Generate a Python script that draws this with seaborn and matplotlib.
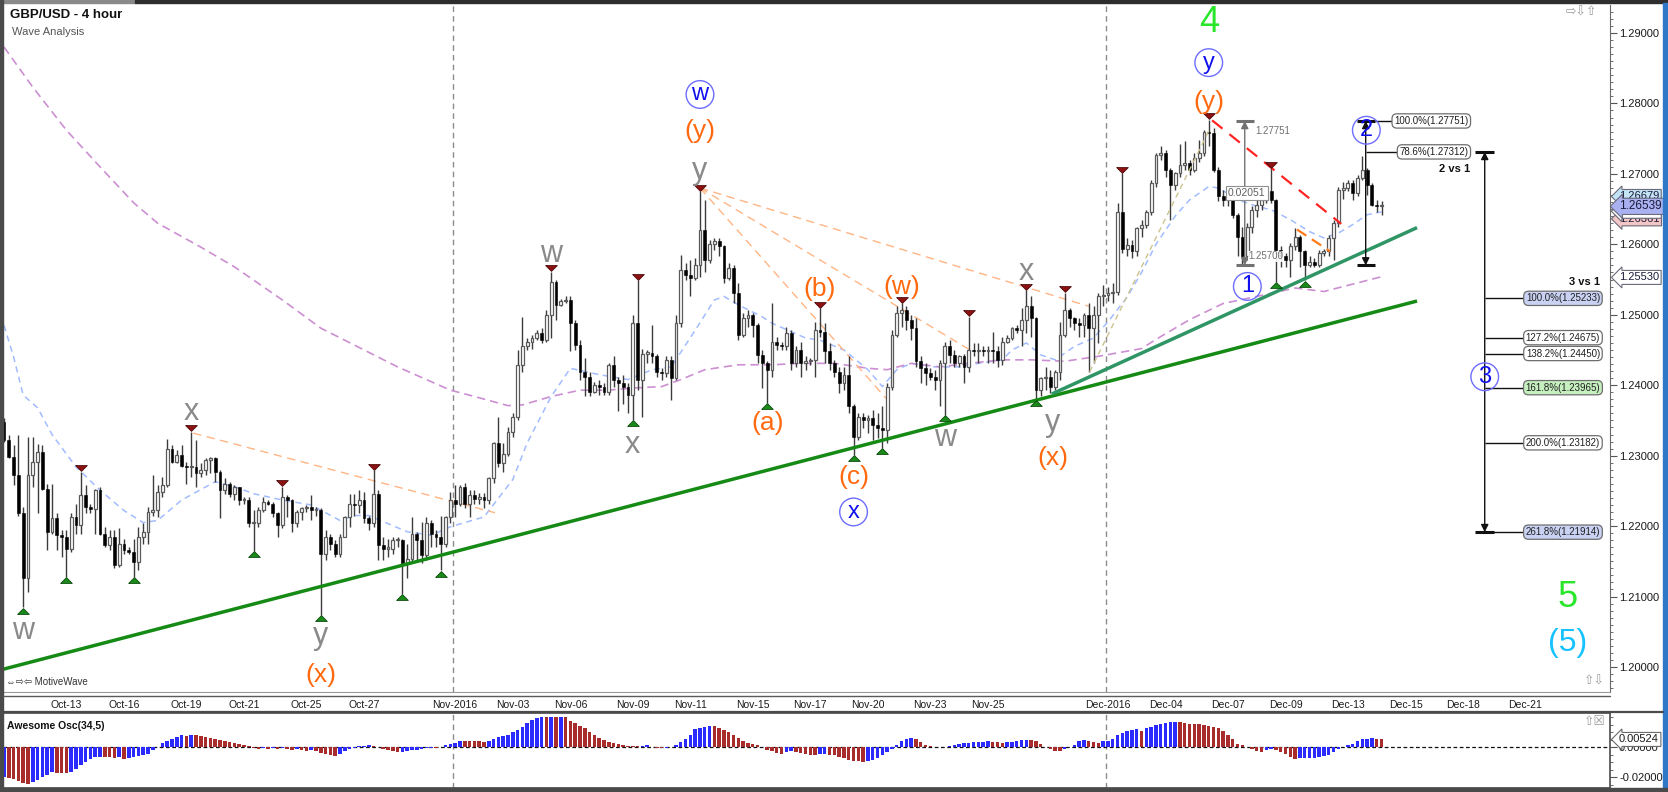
import numpy as np
import pandas as pd
import matplotlib
matplotlib.use("Agg")
import matplotlib.pyplot as plt
from matplotlib.lines import Line2D
from matplotlib.patches import Rectangle
from matplotlib.ticker import MultipleLocator, FixedLocator, FormatStrFormatter
import seaborn as sns

# ── GBP/USD 4h candles (1.xxxx written as xxxx) ──────────────────────────────
OPEN_FIRST = 2348
CLOSE = [
    2322, 2298, 2272, 2218, 2126, 2272, 2291, 2305, 2253, 2192, 2211, 2187,
    2185, 2168, 2213, 2201, 2244, 2227, 2224, 2251, 2189, 2173, 2185, 2145,
    2175, 2166, 2163, 2149, 2185, 2192, 2220, 2223, 2249, 2258, 2310, 2291,
    2301, 2286, 2284, 2284, 2275, 2279, 2294, 2296, 2277, 2251, 2260, 2246,
    2256, 2237, 2237, 2204, 2204, 2223, 2234, 2232, 2218, 2201, 2242, 2237,
    2204, 2220, 2225, 2227, 2223, 2223, 2161, 2185, 2175, 2161, 2185, 2213,
    2232, 2230, 2237, 2211, 2204, 2246, 2173, 2168, 2168, 2180, 2180, 2147,
    2154, 2189, 2180, 2159, 2204, 2189, 2185, 2175, 2213, 2237, 2232, 2256,
    2232, 2244, 2239, 2242, 2237, 2268, 2318, 2289, 2303, 2334, 2355, 2429,
    2455, 2462, 2467, 2474, 2464, 2500, 2547, 2514, 2519, 2521, 2488, 2457,
    2419, 2412, 2391, 2400, 2398, 2391, 2429, 2407, 2403, 2398, 2386, 2488,
    2407, 2445, 2446, 2441, 2419, 2417, 2436, 2410, 2488, 2564, 2557, 2552,
    2571, 2620, 2578, 2601, 2604, 2597, 2552, 2566, 2531, 2471, 2495, 2500,
    2486, 2443, 2431, 2422, 2462, 2457, 2455, 2474, 2431, 2450, 2431, 2434,
    2436, 2478, 2476, 2448, 2431, 2419, 2403, 2415, 2370, 2327, 2355, 2351,
    2353, 2344, 2339, 2337, 2398, 2471, 2502, 2507, 2493, 2481, 2434, 2424,
    2417, 2412, 2407, 2431, 2455, 2443, 2431, 2441, 2426, 2450, 2448, 2450,
    2448, 2450, 2448, 2436, 2462, 2467, 2481, 2478, 2493, 2512, 2495, 2393,
    2410, 2412, 2398, 2419, 2471, 2507, 2495, 2488, 2486, 2500, 2481, 2500,
    2526, 2528, 2531, 2533, 2646, 2594, 2599, 2590, 2623, 2628, 2646, 2687,
    2727, 2729, 2706, 2684, 2701, 2713, 2715, 2706, 2722, 2729, 2760, 2758,
    2706, 2668, 2663, 2668, 2642, 2611, 2583, 2625, 2649, 2656, 2663, 2675,
    2663, 2592, 2583, 2578, 2597, 2611, 2590, 2571, 2575, 2571, 2587, 2590,
    2609, 2630, 2677, 2680, 2687, 2673, 2694, 2706, 2684, 2656, 2654, 2655,
]
HIGH = [
    2353, 2329, 2315, 2329, 2227, 2327, 2327, 2317, 2315, 2260, 2260, 2218,
    2194, 2194, 2218, 2232, 2277, 2258, 2232, 2253, 2256, 2199, 2194, 2194,
    2197, 2182, 2171, 2182, 2199, 2204, 2227, 2272, 2258, 2270, 2324, 2315,
    2308, 2315, 2291, 2334, 2322, 2289, 2296, 2298, 2298, 2280, 2268, 2263,
    2258, 2256, 2242, 2242, 2223, 2227, 2242, 2237, 2234, 2220, 2256, 2244,
    2239, 2223, 2227, 2230, 2244, 2227, 2225, 2194, 2189, 2180, 2189, 2215,
    2246, 2246, 2251, 2249, 2215, 2279, 2251, 2185, 2182, 2185, 2185, 2182,
    2175, 2213, 2192, 2206, 2213, 2208, 2194, 2215, 2215, 2249, 2258, 2258,
    2261, 2251, 2251, 2247, 2247, 2270, 2320, 2355, 2318, 2341, 2360, 2450,
    2497, 2467, 2471, 2478, 2481, 2507, 2561, 2549, 2523, 2526, 2526, 2493,
    2464, 2438, 2419, 2405, 2407, 2403, 2431, 2441, 2412, 2415, 2403, 2500,
    2549, 2452, 2450, 2486, 2445, 2424, 2441, 2441, 2500, 2585, 2573, 2578,
    2580, 2675, 2663, 2606, 2609, 2609, 2599, 2573, 2571, 2545, 2502, 2507,
    2502, 2488, 2450, 2434, 2516, 2469, 2462, 2483, 2478, 2455, 2462, 2441,
    2438, 2490, 2509, 2488, 2460, 2436, 2426, 2426, 2441, 2374, 2360, 2360,
    2358, 2365, 2360, 2370, 2403, 2478, 2512, 2516, 2512, 2500, 2495, 2441,
    2431, 2424, 2422, 2436, 2462, 2464, 2450, 2443, 2445, 2497, 2460, 2460,
    2455, 2455, 2476, 2455, 2469, 2471, 2483, 2486, 2509, 2535, 2526, 2497,
    2412, 2426, 2422, 2422, 2490, 2531, 2509, 2497, 2495, 2502, 2516, 2512,
    2531, 2542, 2540, 2545, 2658, 2701, 2609, 2606, 2625, 2635, 2649, 2691,
    2729, 2739, 2734, 2708, 2703, 2743, 2746, 2720, 2729, 2748, 2762, 2777,
    2765, 2710, 2677, 2672, 2670, 2644, 2625, 2630, 2654, 2663, 2668, 2677,
    2708, 2665, 2597, 2587, 2602, 2623, 2613, 2592, 2583, 2580, 2592, 2594,
    2613, 2635, 2682, 2689, 2691, 2691, 2699, 2725, 2708, 2687, 2663, 2661,
]
LOW = [
    2320, 2296, 2258, 2215, 2085, 2107, 2256, 2218, 2251, 2166, 2189, 2166,
    2156, 2128, 2163, 2189, 2189, 2218, 2218, 2189, 2187, 2171, 2166, 2140,
    2142, 2161, 2161, 2128, 2137, 2175, 2175, 2215, 2213, 2242, 2256, 2289,
    2289, 2284, 2260, 2270, 2256, 2270, 2272, 2275, 2263, 2211, 2246, 2242,
    2237, 2230, 2232, 2199, 2165, 2199, 2220, 2230, 2213, 2185, 2197, 2213,
    2192, 2199, 2208, 2220, 2208, 2215, 2074, 2152, 2166, 2156, 2156, 2185,
    2199, 2215, 2218, 2204, 2194, 2199, 2152, 2152, 2156, 2161, 2171, 2104,
    2126, 2147, 2152, 2147, 2152, 2171, 2171, 2137, 2171, 2204, 2213, 2228,
    2225, 2213, 2232, 2232, 2225, 2232, 2261, 2284, 2277, 2299, 2327, 2351,
    2419, 2450, 2452, 2464, 2460, 2462, 2467, 2493, 2512, 2516, 2448, 2450,
    2408, 2384, 2384, 2389, 2386, 2386, 2386, 2398, 2363, 2374, 2360, 2351,
    2393, 2355, 2431, 2431, 2412, 2408, 2412, 2379, 2408, 2483, 2549, 2526,
    2549, 2554, 2561, 2573, 2592, 2583, 2545, 2549, 2516, 2464, 2469, 2483,
    2469, 2431, 2396, 2375, 2412, 2450, 2450, 2450, 2422, 2426, 2412, 2422,
    2429, 2412, 2469, 2431, 2422, 2412, 2389, 2393, 2360, 2301, 2322, 2339,
    2332, 2322, 2325, 2311, 2318, 2393, 2469, 2483, 2478, 2464, 2426, 2403,
    2400, 2408, 2393, 2370, 2358, 2431, 2426, 2426, 2403, 2419, 2441, 2431,
    2441, 2431, 2431, 2426, 2429, 2460, 2464, 2474, 2455, 2474, 2469, 2380,
    2384, 2393, 2389, 2393, 2408, 2469, 2483, 2478, 2469, 2469, 2419, 2431,
    2460, 2512, 2519, 2516, 2528, 2587, 2583, 2580, 2583, 2611, 2623, 2642,
    2682, 2720, 2696, 2635, 2677, 2696, 2706, 2699, 2703, 2717, 2725, 2739,
    2703, 2661, 2654, 2654, 2637, 2583, 2570, 2578, 2616, 2639, 2649, 2658,
    2658, 2547, 2568, 2568, 2554, 2592, 2568, 2549, 2568, 2568, 2568, 2583,
    2583, 2578, 2625, 2665, 2675, 2663, 2668, 2691, 2670, 2654, 2646, 2642,
]
# Awesome Osc(34,5), in units of 0.0001
AO = [
    -200, -207, -213, -225, -238, -245, -234, -218, -200, -182, -166, -169,
    -171, -173, -162, -144, -121, -99, -79, -67, -63, -65, -67, -70,
    -67, -76, -72, -65, -61, -54, -43, -20, 4, 27, 45, 58,
    72, 81, 76, 81, 79, 76, 72, 65, 58, 49, 40, 34,
    27, 20, 13, 7, -2, -9, -7, -9, -4, -9, -7, -13,
    -18, -13, -16, -22, -18, -27, -36, -45, -52, -58, -43, -27,
    -13, -2, 7, 11, 16, 9, 0, -9, -16, -25, -31, -29,
    -27, -20, -18, -9, -7, -4, -6, 4, 13, 20, 27, 45,
    43, 42, 41, 40, 36, 45, 58, 70, 76, 85, 99, 115,
    137, 160, 184, 198, 204, 203, 204, 203, 204, 200, 178, 160,
    144, 126, 99, 81, 65, 49, 38, 29, 20, 13, 9, 8,
    7, 9, 13, 4, -2, -3, -2, 2, 18, 36, 58, 85,
    121, 126, 137, 144, 139, 130, 115, 99, 81, 63, 45, 31,
    20, 13, 0, -18, -27, -40, -43, -31, -27, -34, -38, -43,
    -49, -54, -47, -45, -49, -54, -63, -74, -83, -90, -92, -97,
    -90, -83, -72, -54, -31, -9, 13, 40, 58, 65, 54, 36,
    18, 9, 0, -1, 4, 11, 18, 22, 29, 31, 34, 36,
    38, 43, 38, 37, 31, 38, 38, 39, 47, 52, 49, 40,
    25, 4, -9, -22, -24, -13, 4, 18, 40, 49, 40, 36,
    31, 40, 45, 56, 81, 94, 108, 115, 121, 110, 126, 137,
    148, 157, 164, 171, 172, 171, 162, 157, 155, 153, 148, 144,
    137, 126, 108, 81, 54, 25, 13, 0, -13, -25, -31, -20,
    -13, -20, -31, -45, -65, -76, -74, -73, -72, -71, -65, -58,
    -49, -31, -13, 0, 13, 25, 40, 54, 58, 63, 58, 54,
]

# moving averages (bar index, 1.xxxx)
BLUE_MA_BAR = [0, 2, 4, 7, 10, 15, 20, 25, 29, 32, 37, 44, 48, 52, 58, 64, 70, 73, 76, 84,
               89, 93, 100, 106, 109, 114, 118, 124, 130, 135, 139, 144, 148, 150, 153, 158,
               160, 164, 167, 170, 175, 180, 183, 186, 189, 194, 199, 203, 208, 210, 213,
               216, 219, 223, 227, 230, 234, 237, 240, 244, 247, 251, 253, 255, 258, 261,
               264, 268, 272, 275, 278, 281, 284, 287]
BLUE_MA = [2485, 2440, 2386, 2368, 2330, 2284, 2251, 2222, 2205, 2208, 2237, 2263, 2256, 2246,
           2237, 2230, 2208, 2215, 2215, 2192, 2187, 2199, 2213, 2266, 2318, 2384, 2424, 2415,
           2408, 2422, 2426, 2478, 2521, 2526, 2514, 2497, 2488, 2476, 2467, 2464, 2450, 2422,
           2398, 2422, 2431, 2426, 2426, 2431, 2436, 2450, 2460, 2443, 2436, 2455, 2467, 2490,
           2525, 2560, 2600, 2640, 2663, 2682, 2680, 2672, 2661, 2654, 2649, 2635, 2618, 2609,
           2616, 2628, 2642, 2646]
PURPLE_MA_BAR = [0, 6, 13, 20, 27, 32, 41, 48, 58, 66, 82, 93, 98, 105, 108, 114, 120, 126,
                 131, 137, 141, 146, 153, 160, 166, 173, 180, 184, 189, 195, 201, 208, 214,
                 221, 228, 237, 240, 247, 254, 261, 269, 275, 279, 287]
PURPLE_MA = [2880, 2823, 2762, 2710, 2659, 2630, 2596, 2568, 2521, 2481, 2426, 2393, 2384,
             2371, 2372, 2384, 2393, 2393, 2396, 2398, 2408, 2422, 2429, 2429, 2431, 2431,
             2424, 2422, 2431, 2426, 2431, 2436, 2436, 2434, 2441, 2452, 2465, 2493, 2516,
             2526, 2538, 2533, 2540, 2554]

TICK_DAYS = ["2016-10-13", "2016-10-16", "2016-10-19", "2016-10-21", "2016-10-25",
             "2016-10-27", "2016-11-01", "2016-11-03", "2016-11-06", "2016-11-09",
             "2016-11-11", "2016-11-15", "2016-11-17", "2016-11-20", "2016-11-23",
             "2016-11-25", "2016-12-01", "2016-12-04", "2016-12-07", "2016-12-09",
             "2016-12-13", "2016-12-15", "2016-12-18", "2016-12-21"]

SWING_HIGHS = [16, 39, 58, 77, 114, 132, 145, 170, 187, 201, 213, 221, 233, 251, 264]
SWING_LOWS = [4, 13, 27, 52, 66, 83, 91, 131, 159, 177, 183, 196, 215, 265, 271]

# wave labels: text, bar, anchored at high/low, degree
WAVE_TEXT = ["w", "x", "y", "(x)", "w", "x", "y", "(y)", "w", "(a)", "(b)", "(c)", "x",
             "(w)", "w", "x", "y", "(x)", "(y)", "y", "4", "1", "2"]
WAVE_BAR = [4, 39, 66, 66, 114, 131, 145, 145, 145, 159, 170, 177, 177,
            187, 196, 213, 215, 215, 251, 251, 251, 258, 283]
WAVE_AT = ["low", "high", "low", "low", "high", "low", "high", "high", "high", "low", "high",
           "low", "low", "high", "low", "high", "low", "low", "high", "high", "high", "low", "high"]
WAVE_DEG = ["minor", "minor", "minor", "paren", "minor", "minor", "minor", "paren", "circle",
            "paren", "paren", "paren", "circle", "paren", "minor", "minor", "minor", "paren",
            "paren", "circle", "primary", "circle", "circle"]

# analysis lines (bar0, price0, bar1, price1)
TREND_MAIN = (-0.8, 1.19957, 294.4, 1.25195)
TREND_UPPER = (218.3, 1.23875, 294.4, 1.26237)
FAN_LINES = [(39.4, 1.2332, 102.3, 1.2219), (145.0, 1.2680, 226.0, 1.2512),
             (145.0, 1.2680, 202.0, 1.2447), (145.0, 1.2680, 184.6, 1.2375)]
RED_LINE = (251.7, 1.2776, 278.6, 1.2629)
ORANGE_LINE = (269.4, 1.2621, 276.3, 1.2590)
KHAKI_LINE = (226.2, 1.2419, 251.3, 1.2765)

# fibonacci tools
WAVE1_TOP, WAVE1_BOTTOM, WAVE1_SPAN = 1.27751, 1.25700, "0.02051"
FIB2_PCT = ["100.0%", "78.6%"]
FIB2_PRICE = [1.27751, 1.27312]
FIB3_PCT = ["100.0%", "127.2%", "138.2%", "161.8%", "200.0%", "261.8%"]
FIB3_PRICE = [1.25233, 1.24675, 1.24450, 1.23965, 1.23182, 1.21914]
FIB3_FILL = ["#c9d2f3", "white", "white", "#c6efbf", "white", "#c9d2f3"]
PRICE_TAGS = [1.26361, 1.26469, 1.26679, 1.26539, 1.25530]
TAG_FILL = ["#f3c5c5", "white", "#c3e4f5", "#aab1f0", "white"]
AO_TAG = 0.00524

# ── prepare ──────────────────────────────────────────────────────────────────
to_px = lambda v: 1 + np.asarray(v, dtype=float) / 1e4
c = to_px(CLOSE)
h = to_px(HIGH)
l = to_px(LOW)
o = to_px(np.r_[OPEN_FIRST, CLOSE[:-1]])
n = len(c)
bars = pd.DataFrame({"bar": np.arange(n), "open": o, "high": np.maximum(h, np.maximum(o, c)),
                     "low": np.minimum(l, np.minimum(o, c)), "close": c})
ao = pd.DataFrame({"bar": np.arange(n), "ao": np.asarray(AO) / 1e4})
ao["dir"] = np.where(ao["ao"].diff().fillna(1) >= 0, "up", "down")

times = pd.date_range("2016-10-10 20:00", "2016-12-23 20:00", freq="4h")
times = times[(times.dayofweek < 5) | ((times.dayofweek == 6) & (times.hour == 20))]
tick_pos, tick_lab = [], []
for d in TICK_DAYS:
    t = pd.Timestamp(d)
    tick_pos.append(int(times.searchsorted(t)))
    tick_lab.append(t.strftime("%b-%Y") if t.day == 1 else t.strftime("%b-%d"))

# ── figure ───────────────────────────────────────────────────────────────────
sns.set_style("white")
plt.rcParams["font.family"] = ["Liberation Sans", "DejaVu Sans"]

W, H = 1668, 792
fig = plt.figure(figsize=(W / 100, H / 100), dpi=100)


def fbox(x0, y0, x1, y1):
    return [x0 / W, 1 - y1 / H, (x1 - x0) / W, (y1 - y0) / H]


ax = fig.add_axes(fbox(3, 5, 1610, 692))
aox = fig.add_axes(fbox(3, 713, 1610, 788))
XLIM = (-0.21, 334.6)
YLIM = (1.19645, 1.29397)
px = (YLIM[1] - YLIM[0]) / 687.0

# candles
up = bars["close"] >= bars["open"]
ax.vlines(bars["bar"], bars["low"], bars["high"], color="#3c3c3c", lw=1, zorder=3)
body_lo = np.minimum(bars["open"], bars["close"])
body_h = np.maximum((bars["close"] - bars["open"]).abs(), 1.3 * px)
ax.bar(bars["bar"][up], body_h[up], bottom=body_lo[up], width=0.6, color="white",
       edgecolor="#5a5a5a", lw=0.9, zorder=4)
ax.bar(bars["bar"][~up], body_h[~up], bottom=body_lo[~up], width=0.6, color="black",
       edgecolor="black", lw=0.4, zorder=4)

# moving averages
sns.lineplot(x=BLUE_MA_BAR, y=to_px(BLUE_MA), ax=ax, color="#a2bcff", lw=1.1,
             linestyle=(0, (4, 3)), estimator=None, sort=False, zorder=2)
sns.lineplot(x=PURPLE_MA_BAR, y=to_px(PURPLE_MA), ax=ax, color="#cc8fd2", lw=1.2,
             linestyle=(0, (5, 3)), estimator=None, sort=False, zorder=2)

# trend / fan lines
for seg, col, lw, ls in [(TREND_MAIN, "#158a15", 2.5, "-"), (TREND_UPPER, "#2f9565", 2.5, "-"),
                         (RED_LINE, "#ff2424", 1.6, (0, (6, 4))),
                         (ORANGE_LINE, "#ff7a1a", 1.6, (0, (5, 3))),
                         (KHAKI_LINE, "#cbc48e", 1.0, (0, (4, 3)))]:
    ax.plot([seg[0], seg[2]], [seg[1], seg[3]], color=col, lw=lw, ls=ls, zorder=5,
            solid_capstyle="butt")
for seg in FAN_LINES:
    ax.plot([seg[0], seg[2]], [seg[1], seg[3]], color="#ffb585", lw=1.0, ls=(0, (6, 4)), zorder=2)

# swing markers
tri_dn = [(-1, 0.5), (1, 0.5), (0, -0.5), (-1, 0.5)]
tri_up = [(-1, -0.5), (1, -0.5), (0, 0.5), (-1, -0.5)]
ax.scatter(SWING_HIGHS, bars["high"].iloc[SWING_HIGHS] + 3.5 * px, marker=tri_dn, s=70,
           color="#8e1212", edgecolor="#4a0a0a", lw=0.6, zorder=6)
ax.scatter(SWING_LOWS, bars["low"].iloc[SWING_LOWS] - 3.5 * px, marker=tri_up, s=70,
           color="#1a8a1a", edgecolor="#0a4a0a", lw=0.6, zorder=6)

# wave labels
STYLE = {"minor": dict(color="#8a8a8a", fontsize=22),
         "paren": dict(color="#ff6a10", fontsize=19),
         "circle": dict(color="#1010ee", fontsize=17,
                        bbox=dict(boxstyle="circle,pad=0.12", fc="none", ec="#6d6dff", lw=1)),
         "primary": dict(color="#2ae62a", fontsize=26)}
LABEL_OFFSETS = [(0, -24), (0, 20), (0, -21), (0, -60), (0, 18), (0, -25), (0, 20), (0, 60),
                 (0, 97), (0, -20), (0, 19), (0, -22), (0, -57), (0, 16), (0, -23), (0, 18),
                 (17, -24), (17, -59), (0, 18), (0, 57), (0, 97), (5, -21), (4, 26)]
for txt, b, at, deg, (dx, dy) in zip(WAVE_TEXT, WAVE_BAR, WAVE_AT, WAVE_DEG, LABEL_OFFSETS):
    yv = bars["high"].iloc[b] if at == "high" else bars["low"].iloc[b]
    ax.annotate(txt, (b, yv), xytext=(dx, dy), textcoords="offset pixels", ha="center",
                va="center", zorder=8, **STYLE[deg])

# wave 1 measurement (gray) and wave 2 measurement (black)
for xb, col in [(258.5, "#727272"), (283.7, "#111111")]:
    ax.annotate("", xy=(xb, WAVE1_TOP), xytext=(xb, WAVE1_BOTTOM),
                arrowprops=dict(arrowstyle="<|-|>", color=col, lw=1, mutation_scale=11,
                                shrinkA=0, shrinkB=0), zorder=7)
    ax.hlines([WAVE1_TOP, WAVE1_BOTTOM], xb - 1.9, xb + 1.9, color=col, lw=2.2, zorder=7)
ax.text(260.6, WAVE1_TOP - 10 * px, f"{WAVE1_TOP:.5f}", fontsize=7, color="#707070",
        va="center", ha="left", zorder=8)
ax.text(259.2, WAVE1_BOTTOM + 9 * px, f"{WAVE1_BOTTOM:.5f}", fontsize=7, color="#707070",
        va="center", ha="left", zorder=9,
        bbox=dict(boxstyle="square,pad=0.05", fc="white", ec="none", alpha=0.85))
ax.text(258.9, 1.2673, WAVE1_SPAN, fontsize=7.5, color="#606060", ha="center", va="center",
        zorder=8, bbox=dict(boxstyle="square,pad=0.2", fc="white", ec="#909090", lw=0.8))

box_kw = dict(fontsize=7, color="#202020", va="center", zorder=8)
ax.hlines(FIB2_PRICE[0], 285.6, 289.3, color="#111111", lw=1, zorder=7)
ax.hlines(FIB2_PRICE[1], 283.7, 290.3, color="#111111", lw=1, zorder=7)
for pct, pr in zip(FIB2_PCT, FIB2_PRICE):
    ax.text(305.1, pr, f"{pct}({pr:.5f})", ha="right",
            bbox=dict(boxstyle="round,pad=0.22,rounding_size=0.5", fc="white", ec="#6e6e6e",
                      lw=0.9), **box_kw)
ax.text(305.4, 1.2707, "2 vs 1", ha="right", va="center", fontsize=8, fontweight="bold",
        color="#111111")

# wave 3 projection
fx = 308.5
ax.annotate("", xy=(fx, FIB2_PRICE[1]), xytext=(fx, FIB3_PRICE[-1]),
            arrowprops=dict(arrowstyle="<|-|>", color="#111111", lw=1, mutation_scale=11,
                            shrinkA=0, shrinkB=0), zorder=7)
ax.hlines([FIB2_PRICE[1], FIB3_PRICE[-1]], fx - 2.0, fx + 2.0, color="#111111", lw=2.2, zorder=7)
ax.hlines(FIB3_PRICE, fx, 316.6, color="#111111", lw=1, zorder=7)
for pct, pr, fc in zip(FIB3_PCT, FIB3_PRICE, FIB3_FILL):
    ax.text(324.8, pr, f"{pct}({pr:.5f})", ha="center",
            bbox=dict(boxstyle="round,pad=0.22,rounding_size=0.5", fc=fc, ec="#6e6e6e",
                      lw=0.9), **box_kw)
ax.text(332.6, 1.2547, "3 vs 1", ha="right", va="center", fontsize=8, fontweight="bold",
        color="#111111")
ax.text(fx, 1.2412, "3", ha="center", va="center", zorder=8, **STYLE["circle"])
ax.text(325.8, 1.2098, "5", ha="center", va="center", color="#2ae62a", fontsize=26)
ax.text(325.8, 1.2034, "(5)", ha="center", va="center", color="#16c2ff", fontsize=23)

# month separators
for a in (ax, aox):
    for m in (93.5, 229.5):
        a.axvline(m, color="#8c8c8c", lw=1, ls=(0, (4, 3)), zorder=1)

# price axis
ax.set_xlim(*XLIM)
ax.set_ylim(*YLIM)
ax.yaxis.tick_right()
ax.yaxis.set_major_locator(MultipleLocator(0.01))
ax.yaxis.set_minor_locator(MultipleLocator(0.001))
ax.yaxis.set_major_formatter(FormatStrFormatter("%.5f"))
ax.tick_params(axis="y", which="major", right=True, left=False, length=5, width=0.8,
               color="#555555", labelsize=8, labelcolor="#1a1a1a", pad=1.5)
ax.tick_params(axis="y", which="minor", right=True, left=False, length=2.5, width=0.6,
               color="#555555")
ax.set_xticks(tick_pos)
ax.set_xticklabels(tick_lab)
ax.tick_params(axis="x", direction="out", length=3, width=0.8, color="#8a8a8a",
               labelsize=7.5, labelcolor="#1a1a1a", pad=3)
for s in ("top", "left"):
    ax.spines[s].set_visible(False)
ax.spines["right"].set_color("#6a6a6a")
ax.spines["bottom"].set_color("#9a9a9a")
ax.set_xlabel("")
ax.set_ylabel("")

# price tags on the axis (stacked as in the platform)
for pr, fc in zip(PRICE_TAGS, TAG_FILL):
    ax.annotate(f"{pr:.5f}", (1.0, pr), xycoords=("axes fraction", "data"), xytext=(9, 0),
                textcoords="offset pixels", ha="left", va="center",
                fontsize=8.5 if fc == "#aab1f0" else 8, color="#1a1a3a", annotation_clip=False,
                bbox=dict(boxstyle="larrow,pad=0.18", fc=fc, ec="#6a6a7a", lw=0.8), zorder=9)

# awesome oscillator
sns.barplot(data=ao, x="bar", y="ao", hue="dir", palette={"up": "#2b2bff", "down": "#a82c2c"},
            native_scale=True, dodge=False, width=0.72, errorbar=None, legend=False,
            saturation=1, linewidth=0, ax=aox, zorder=2)
aox.axhline(0, color="#111111", lw=0.9, ls=(0, (3, 2)), zorder=1)
aox.set_xlim(*XLIM)
aox.set_ylim(-0.02713, 0.02287)
aox.set_xticks([])
aox.yaxis.tick_right()
aox.yaxis.set_major_locator(FixedLocator([-0.02, 0.0]))
aox.yaxis.set_minor_locator(MultipleLocator(0.005))
aox.yaxis.set_major_formatter(FormatStrFormatter("%.5f"))
aox.tick_params(axis="y", which="major", right=True, left=False, length=5, width=0.8,
                color="#555555", labelsize=8, labelcolor="#1a1a1a", pad=1.5)
aox.tick_params(axis="y", which="minor", right=True, left=False, length=2.5, width=0.6,
                color="#555555")
aox.set_xlabel("")
aox.set_ylabel("")
for s in aox.spines.values():
    s.set_color("#4a4a4a")
    s.set_linewidth(1.2)
aox.annotate(f"{AO_TAG:.5f}", (1.0, AO_TAG), xycoords=("axes fraction", "data"), xytext=(9, 0),
             textcoords="offset pixels", ha="left", va="center", fontsize=8, color="#1a1a1a",
             annotation_clip=False,
             bbox=dict(boxstyle="larrow,pad=0.18", fc="white", ec="#6a6a6a", lw=0.8), zorder=9)

# frame and captions
fig.patches.extend([
    Rectangle((0, 1 - 3 / H), 135 / W, 3 / H, transform=fig.transFigure, color="#8a8a8a"),
    Rectangle((135 / W, 1 - 3 / H), 1, 3 / H, transform=fig.transFigure, color="#2e2e2e"),
    Rectangle((0, 0), 2.5 / W, 1, transform=fig.transFigure, color="#4a4a4a"),
    Rectangle(((W - 5) / W, 4 / H), 5 / W, (H - 7) / H, transform=fig.transFigure,
              color="#2f78c8"),
    Rectangle((0, 0), 1, 4 / H, transform=fig.transFigure, color="#4a4a4a"),
])
fig.add_artist(Line2D([3 / W, 1610 / W], [1 - 696 / H] * 2, color="#5a5a5a", lw=1))
fig.add_artist(Line2D([0, (W - 5) / W], [1 - 712 / H] * 2, color="#4a4a4a", lw=1.6))
fig.text(10 / W, 1 - 15 / H, "GBP/USD - 4 hour", fontsize=9.5, fontweight="bold",
         color="#111111", va="center")
fig.text(12 / W, 1 - 32 / H, "Wave Analysis", fontsize=8, color="#555555", va="center")
fig.text(7 / W, 1 - 726 / H, "Awesome Osc(34,5)", fontsize=7.5, fontweight="bold",
         color="#111111", va="center")
fig.text(6 / W, 1 - 682 / H, "⇔⇨⇦ MotiveWave", fontsize=7, color="#333333", va="center")
fig.text(1566 / W, 1 - 13 / H, "⇨⇩⇧", fontsize=9, color="#9a9a9a", va="center")
fig.text(1584 / W, 1 - 682 / H, "⇧⇩", fontsize=9, color="#9a9a9a", va="center")
fig.text(1584 / W, 1 - 722 / H, "⇧☒", fontsize=9, color="#9a9a9a", va="center")

fig.savefig("out.png", dpi=100)
